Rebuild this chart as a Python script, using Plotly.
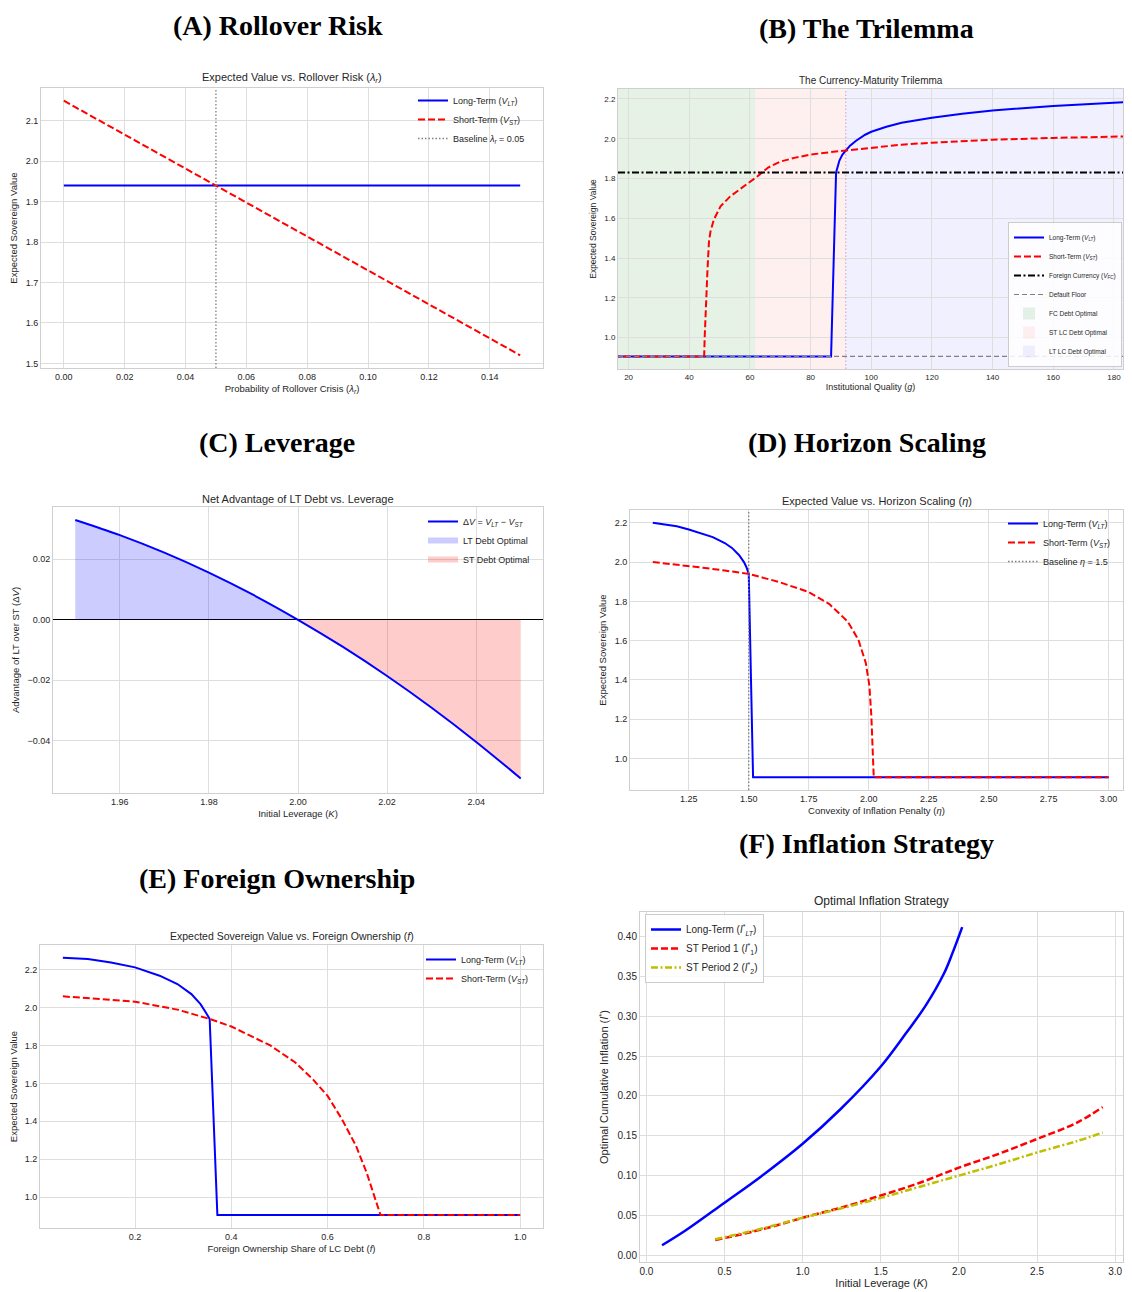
import plotly.graph_objects as go

# page body has an 8px margin: the figure is laid out in page pixels minus this offset
OFF = 8
W, H = 1132 - 2 * OFF, 1292 - OFF
RIGHT = 1123  # right-most visible page pixel for the plot areas

# ---------------- DATA ----------------
# (A) Rollover risk
A_lambda = [0.0, 0.15]
A_VLT = [1.94, 1.94]
A_VST = [2.15, 1.52]
A_baseline = 0.05

# (B) Trilemma
B_g_LT = [15, 86.75, 88.4, 89.5, 90.5, 91.6, 93, 95, 98, 100, 105, 110, 120, 130, 140, 160, 185]
B_V_LT = [0.905, 0.905, 1.83, 1.89, 1.92, 1.94, 1.965, 1.99, 2.02, 2.035, 2.06, 2.08, 2.105, 2.125, 2.142, 2.165, 2.185]
B_g_ST = [15, 44.9, 45.1, 45.5, 46.0, 46.5, 47.0, 48.1, 50.3, 53.5, 58, 62.4, 66, 70, 75, 80, 85, 91.6, 100, 110, 120, 140, 160, 185]
B_V_ST = [0.905, 0.905, 1.008, 1.176, 1.34, 1.484, 1.534, 1.593, 1.66, 1.71, 1.76, 1.81, 1.855, 1.885, 1.905, 1.92, 1.93, 1.94, 1.955, 1.97, 1.98, 1.995, 2.004, 2.012]
B_VFC = 1.83
B_floor = 0.905
B_FC_end = 61.8
B_STLC_end = 91.6
B_g_lims = [16.5, 183.0]

# (C) Leverage
C_K = [1.95, 1.96, 1.97, 1.98, 1.99, 2.00, 2.01, 2.02, 2.03, 2.04, 2.05]
C_dV = [0.0330, 0.0280, 0.0222, 0.0156, 0.0082, 0.0, -0.0089, -0.0186, -0.0291, -0.0404, -0.0525]

# (D) Horizon scaling
D_eta_LT = [1.1, 1.2, 1.25, 1.3, 1.35, 1.4, 1.43, 1.46, 1.48, 1.49, 1.5, 1.518, 3.0]
D_V_LT = [2.2, 2.182, 2.166, 2.148, 2.127, 2.097, 2.072, 2.035, 2.0, 1.975, 1.94, 0.905, 0.905]
D_eta_ST = [1.1, 1.2, 1.318, 1.4, 1.5, 1.622, 1.745, 1.836, 1.912, 1.957, 1.988, 2.003, 2.011, 2.021, 3.0]
D_V_ST = [2.0, 1.988, 1.97, 1.957, 1.94, 1.90, 1.85, 1.786, 1.698, 1.605, 1.486, 1.37, 1.217, 0.905, 0.905]
D_baseline = 1.5

# (E) Foreign ownership
E_f_LT = [0.05, 0.102, 0.15, 0.2, 0.251, 0.288, 0.317, 0.336, 0.347, 0.355, 0.371, 1.0]
E_V_LT = [2.263, 2.256, 2.238, 2.212, 2.168, 2.124, 2.071, 2.018, 1.974, 1.94, 0.905, 0.905]
E_f_ST = [0.05, 0.2, 0.288, 0.355, 0.4, 0.481, 0.533, 0.57, 0.6, 0.63, 0.659, 0.681, 0.697, 0.71, 1.0]
E_V_ST = [2.059, 2.031, 1.989, 1.94, 1.90, 1.80, 1.71, 1.62, 1.534, 1.41, 1.27, 1.13, 1.005, 0.905, 0.905]

# (F) Inflation strategy
F_K_LT = [0.1, 0.25, 0.5, 0.734, 1.0, 1.24, 1.5, 1.662, 1.789, 1.905, 1.958, 2.021]
F_I_LT = [0.0125, 0.031, 0.066, 0.099, 0.140, 0.183, 0.237, 0.279, 0.314, 0.354, 0.379, 0.412]
F_K_ST = [0.44, 0.75, 1.0, 1.25, 1.5, 1.75, 2.0, 2.25, 2.5, 2.75, 2.92]
F_I1 = [0.019, 0.033, 0.047, 0.060, 0.075, 0.091, 0.110, 0.127, 0.146, 0.166, 0.186]
F_I2 = [0.020, 0.034, 0.047, 0.059, 0.072, 0.086, 0.100, 0.114, 0.129, 0.143, 0.154]

# tick labels
A_xticks = [0.0, 0.02, 0.04, 0.06, 0.08, 0.10, 0.12, 0.14]
A_yticks = [1.5, 1.6, 1.7, 1.8, 1.9, 2.0, 2.1]
B_xticks = [20, 40, 60, 80, 100, 120, 140, 160, 180]
V_yticks = [1.0, 1.2, 1.4, 1.6, 1.8, 2.0, 2.2]
C_xticks = [1.96, 1.98, 2.00, 2.02, 2.04]
C_yticks = [-0.04, -0.02, 0.0, 0.02]
D_xticks = [1.25, 1.5, 1.75, 2.0, 2.25, 2.5, 2.75, 3.0]
E_xticks = [0.2, 0.4, 0.6, 0.8, 1.0]
F_xticks = [0.0, 0.5, 1.0, 1.5, 2.0, 2.5, 3.0]
F_yticks = [0.0, 0.05, 0.10, 0.15, 0.20, 0.25, 0.30, 0.35, 0.40]

# ---------------- STYLE ----------------
SANS = "Liberation Sans, Arial, sans-serif"
SERIF = "Liberation Serif, Times New Roman, serif"
TXT = "#262626"
GRID = "#dedede"
BLUE = "#0000ff"
RED = "#ff0000"
OLIVE = "#bfbf00"
DASH = "7px,3px"
DOT = "1.5px,2px"
DASHDOT = "7px,2.5px,2px,2.5px"


def px_x(p):
    return (p - OFF) / W


def px_y(p):
    return 1 - (p - OFF) / H


def axis(dom, rng, ticks, fmt, title, fs_tick, fs_title, anchor, horiz, standoff):
    d = dict(
        range=rng, tickvals=ticks, tickformat=fmt, showgrid=True, gridcolor=GRID,
        gridwidth=1, showline=True, linecolor="#cfcfcf", linewidth=1, mirror=True,
        zeroline=False, ticks="", tickfont=dict(family=SANS, size=fs_tick, color=TXT),
        title=dict(text=title, font=dict(family=SANS, size=fs_title, color=TXT), standoff=standoff),
        anchor=anchor, automargin=False, ticklabeloverflow="allow",
    )
    if horiz:
        d["domain"] = [px_x(dom[0]), px_x(dom[1])]
    else:
        d["domain"] = [px_y(dom[1]), px_y(dom[0])]
    return d


fig = go.Figure()

# ---- A ----
fig.add_trace(go.Scatter(x=A_lambda, y=A_VLT, mode="lines", line=dict(color=BLUE, width=2),
                         name="Long-Term (<i>V<sub>LT</sub></i>)", xaxis="x", yaxis="y", legend="legend"))
fig.add_trace(go.Scatter(x=A_lambda, y=A_VST, mode="lines", line=dict(color=RED, width=2, dash=DASH),
                         name="Short-Term (<i>V<sub>ST</sub></i>)", xaxis="x", yaxis="y", legend="legend"))

# ---- B ----
fig.add_trace(go.Scatter(x=B_g_LT, y=B_V_LT, mode="lines", line=dict(color=BLUE, width=2),
                         name="Long-Term (<i>V<sub>LT</sub></i>)", xaxis="x2", yaxis="y2", legend="legend2",
                         legendrank=1))
fig.add_trace(go.Scatter(x=B_g_ST, y=B_V_ST, mode="lines", line=dict(color=RED, width=2, dash=DASH),
                         name="Short-Term (<i>V<sub>ST</sub></i>)", xaxis="x2", yaxis="y2", legend="legend2",
                         legendrank=2))

# ---- C ----
fig.add_trace(go.Scatter(x=C_K[:6], y=C_dV[:6], mode="none", fill="tozeroy", line_shape="spline",
                         fillcolor="rgba(0,0,255,0.2)", name="LT Debt Optimal",
                         xaxis="x3", yaxis="y3", legend="legend3", legendrank=2))
fig.add_trace(go.Scatter(x=C_K[5:], y=C_dV[5:], mode="none", fill="tozeroy", line_shape="spline",
                         fillcolor="rgba(255,0,0,0.2)", name="ST Debt Optimal",
                         xaxis="x3", yaxis="y3", legend="legend3", legendrank=3))
fig.add_trace(go.Scatter(x=C_K, y=C_dV, mode="lines", line=dict(color=BLUE, width=2, shape="spline"),
                         name="Δ<i>V</i> = <i>V<sub>LT</sub></i> − <i>V<sub>ST</sub></i>",
                         xaxis="x3", yaxis="y3", legend="legend3", legendrank=1))

# ---- D ----
fig.add_trace(go.Scatter(x=D_eta_LT, y=D_V_LT, mode="lines", line=dict(color=BLUE, width=2),
                         name="Long-Term (<i>V<sub>LT</sub></i>)", xaxis="x4", yaxis="y4", legend="legend4"))
fig.add_trace(go.Scatter(x=D_eta_ST, y=D_V_ST, mode="lines", line=dict(color=RED, width=2, dash=DASH),
                         name="Short-Term (<i>V<sub>ST</sub></i>)", xaxis="x4", yaxis="y4", legend="legend4"))

# ---- E ----
fig.add_trace(go.Scatter(x=E_f_LT, y=E_V_LT, mode="lines", line=dict(color=BLUE, width=2),
                         name="Long-Term (<i>V<sub>LT</sub></i>)", xaxis="x5", yaxis="y5", legend="legend5"))
fig.add_trace(go.Scatter(x=E_f_ST, y=E_V_ST, mode="lines", line=dict(color=RED, width=2, dash=DASH),
                         name="Short-Term (<i>V<sub>ST</sub></i>)", xaxis="x5", yaxis="y5", legend="legend5"))

# ---- F ----
fig.add_trace(go.Scatter(x=F_K_LT, y=F_I_LT, mode="lines", line=dict(color=BLUE, width=2.5, shape="spline"),
                         name="Long-Term (<i>I</i><sup>*</sup><sub><i>LT</i></sub>)", xaxis="x6", yaxis="y6", legend="legend6"))
fig.add_trace(go.Scatter(x=F_K_ST, y=F_I1, mode="lines", line=dict(color=RED, width=2.5, dash=DASH, shape="spline"),
                         name="ST Period 1 (<i>I</i><sup>*</sup><sub>1</sub>)", xaxis="x6", yaxis="y6", legend="legend6"))
fig.add_trace(go.Scatter(x=F_K_ST, y=F_I2, mode="lines", line=dict(color=OLIVE, width=2.5, dash=DASHDOT, shape="spline"),
                         name="ST Period 2 (<i>I</i><sup>*</sup><sub>2</sub>)", xaxis="x6", yaxis="y6", legend="legend6"))

# ---------------- SHAPES ----------------
shapes = []
# A baseline
shapes.append(dict(type="line", xref="x", yref="y domain", x0=A_baseline, x1=A_baseline, y0=0, y1=1,
                   line=dict(color="#808080", width=1.3, dash=DOT), showlegend=True,
                   name="Baseline <i>λ<sub>r</sub></i> = 0.05", legend="legend"))
# B spans
shapes.append(dict(type="rect", xref="x2", yref="y2 domain", x0=B_g_lims[0], x1=B_FC_end, y0=0, y1=1,
                   fillcolor="rgba(0,128,0,0.10)", line=dict(width=0), layer="below",
                   showlegend=True, name="FC Debt Optimal", legend="legend2", legendrank=5))
shapes.append(dict(type="rect", xref="x2", yref="y2 domain", x0=B_FC_end, x1=B_STLC_end, y0=0, y1=1,
                   fillcolor="rgba(255,0,0,0.06)", line=dict(width=0), layer="below",
                   showlegend=True, name="ST LC Debt Optimal", legend="legend2", legendrank=6))
shapes.append(dict(type="rect", xref="x2", yref="y2 domain", x0=B_STLC_end, x1=B_g_lims[1], y0=0, y1=1,
                   fillcolor="rgba(0,0,255,0.06)", line=dict(width=0), layer="below",
                   showlegend=True, name="LT LC Debt Optimal", legend="legend2", legendrank=7))
shapes.append(dict(type="line", xref="x2", yref="y2 domain", x0=B_STLC_end, x1=B_STLC_end, y0=0, y1=1,
                   line=dict(color="rgba(128,0,128,0.35)", width=1, dash=DOT)))
shapes.append(dict(type="line", xref="x2 domain", yref="y2", x0=0, x1=1, y0=B_VFC, y1=B_VFC,
                   line=dict(color="black", width=2, dash=DASHDOT), showlegend=True,
                   name="Foreign Currency (<i>V<sub>FC</sub></i>)", legend="legend2", legendrank=3))
shapes.append(dict(type="line", xref="x2 domain", yref="y2", x0=0, x1=1, y0=B_floor, y1=B_floor,
                   line=dict(color="#808080", width=1.2, dash="5px,3px"), showlegend=True,
                   name="Default Floor", legend="legend2", legendrank=4))
# D baseline
shapes.append(dict(type="line", xref="x4", yref="y4 domain", x0=D_baseline, x1=D_baseline, y0=0, y1=1,
                   line=dict(color="#808080", width=1.3, dash=DOT), showlegend=True,
                   name="Baseline <i>η</i> = 1.5", legend="legend4"))

# ---------------- LAYOUT ----------------
# panel pixel boxes in page pixels: (x0, x1, y0, y1)
PA = (41, 543, 88, 368)
PB = (618, RIGHT, 89, 369)
PC = (53, 543, 507, 793)
PD = (630, RIGHT, 510, 790)
PE = (40, 543, 945, 1228)
PF = (640, RIGHT, 912, 1262)

lay = dict(
    width=W, height=H, margin=dict(l=0, r=0, t=0, b=0),
    paper_bgcolor="white", plot_bgcolor="white", showlegend=True,
    shapes=shapes,
)
lay["xaxis"] = axis(PA[:2], [-0.0075, 0.1575], A_xticks, ".2f", "Probability of Rollover Crisis (<i>λ<sub>r</sub></i>)", 9, 9.5, "y", True, 4)
lay["yaxis"] = axis(PA[2:], [1.4885, 2.1815], A_yticks, ".1f", "Expected Sovereign Value", 9, 9.5, "x", False, 6)
lay["xaxis2"] = axis(PB[:2], B_g_lims, B_xticks, "d", "Institutional Quality (<i>g</i>)", 8, 9, "y2", True, 3)
lay["yaxis2"] = axis(PB[2:], [0.842, 2.25], V_yticks, ".1f", "Expected Sovereign Value", 8, 8.5, "x2", False, 6)
lay["xaxis3"] = axis(PC[:2], [1.945, 2.055], C_xticks, ".2f", "Initial Leverage (<i>K</i>)", 9, 9.5, "y3", True, 4)
lay["yaxis3"] = axis(PC[2:], [-0.0573, 0.0373], C_yticks, ".2f", "Advantage of LT over ST (Δ<i>V</i>)", 9, 9.5, "x3", False, 6)
lay["yaxis3"].update(zeroline=True, zerolinecolor="black", zerolinewidth=1)
lay["xaxis4"] = axis(PD[:2], [1.005, 3.06], D_xticks, ".2f", "Convexity of Inflation Penalty (<i>η</i>)", 9, 9.5, "y4", True, 4)
lay["yaxis4"] = axis(PD[2:], [0.84, 2.265], V_yticks, ".1f", "Expected Sovereign Value", 9, 9.5, "x4", False, 6)
lay["xaxis5"] = axis(PE[:2], [0.0025, 1.0475], E_xticks, ".1f", "Foreign Ownership Share of LC Debt (<i>f</i>)", 9, 9.5, "y5", True, 4)
lay["yaxis5"] = axis(PE[2:], [0.837, 2.33], V_yticks, ".1f", "Expected Sovereign Value", 9, 9.5, "x5", False, 6)
lay["xaxis6"] = axis(PF[:2], [-0.041, 3.05], F_xticks, ".1f", "Initial Leverage (<i>K</i>)", 10, 11, "y6", True, 3)
lay["yaxis6"] = axis(PF[2:], [-0.0085, 0.431], F_yticks, ".2f", "Optimal Cumulative Inflation (<i>I</i><sup>*</sup>)", 10, 11, "x6", False, 6)


def leg(x, y, fs, xa="left", ya="top", framed=False):
    return dict(
        x=px_x(x), y=px_y(y), xanchor=xa, yanchor=ya, xref="paper", yref="paper",
        font=dict(family=SANS, size=fs, color=TXT),
        bgcolor="rgba(255,255,255,0.85)" if framed else "rgba(0,0,0,0)",
        bordercolor="#cccccc" if framed else "rgba(0,0,0,0)", borderwidth=1 if framed else 0,
        tracegroupgap=0, itemwidth=30,
    )


lay["legend"] = leg(413, 86, 9)
lay["legend2"] = leg(RIGHT - 1, 367, 6.5, xa="right", ya="bottom", framed=True)
lay["legend3"] = leg(423, 507, 9)
lay["legend4"] = leg(1003, 509, 9)
lay["legend5"] = leg(421, 945, 9)
lay["legend6"] = leg(645, 914, 10, framed=True)

fig.update_layout(**lay)

# ---------------- TEXT (headings + titles) ----------------
anns = []
headings = [
    ("(A) Rollover Risk", 278, 26),
    ("(B) The Trilemma", 866, 28),
    ("(C) Leverage", 277, 442),
    ("(D) Horizon Scaling", 867, 443),
    ("(E) Foreign Ownership", 277, 878),
    ("(F) Inflation Strategy", 866, 843),
]
for t, x, y in headings:
    anns.append(dict(text="<b>%s</b>" % t, x=px_x(x), y=px_y(y), xref="paper", yref="paper",
                     xanchor="center", yanchor="middle", showarrow=False,
                     font=dict(family=SERIF, size=28, color="black")))
titles = [
    ("Expected Value vs. Rollover Risk (<i>λ<sub>r</sub></i>)", PA, 78, 11),
    ("The Currency-Maturity Trilemma", PB, 81, 10),
    ("Net Advantage of LT Debt vs. Leverage", PC, 499, 11),
    ("Expected Value vs. Horizon Scaling (<i>η</i>)", PD, 501, 11),
    ("Expected Sovereign Value vs. Foreign Ownership (<i>f</i>)", PE, 936, 10.5),
    ("Optimal Inflation Strategy", PF, 901, 12),
]
for t, p, y, fs in titles:
    anns.append(dict(text=t, x=px_x((p[0] + p[1]) / 2), y=px_y(y), xref="paper", yref="paper",
                     xanchor="center", yanchor="middle", showarrow=False,
                     font=dict(family=SANS, size=fs, color=TXT)))
fig.update_layout(annotations=anns)

fig.write_html("out.html")
